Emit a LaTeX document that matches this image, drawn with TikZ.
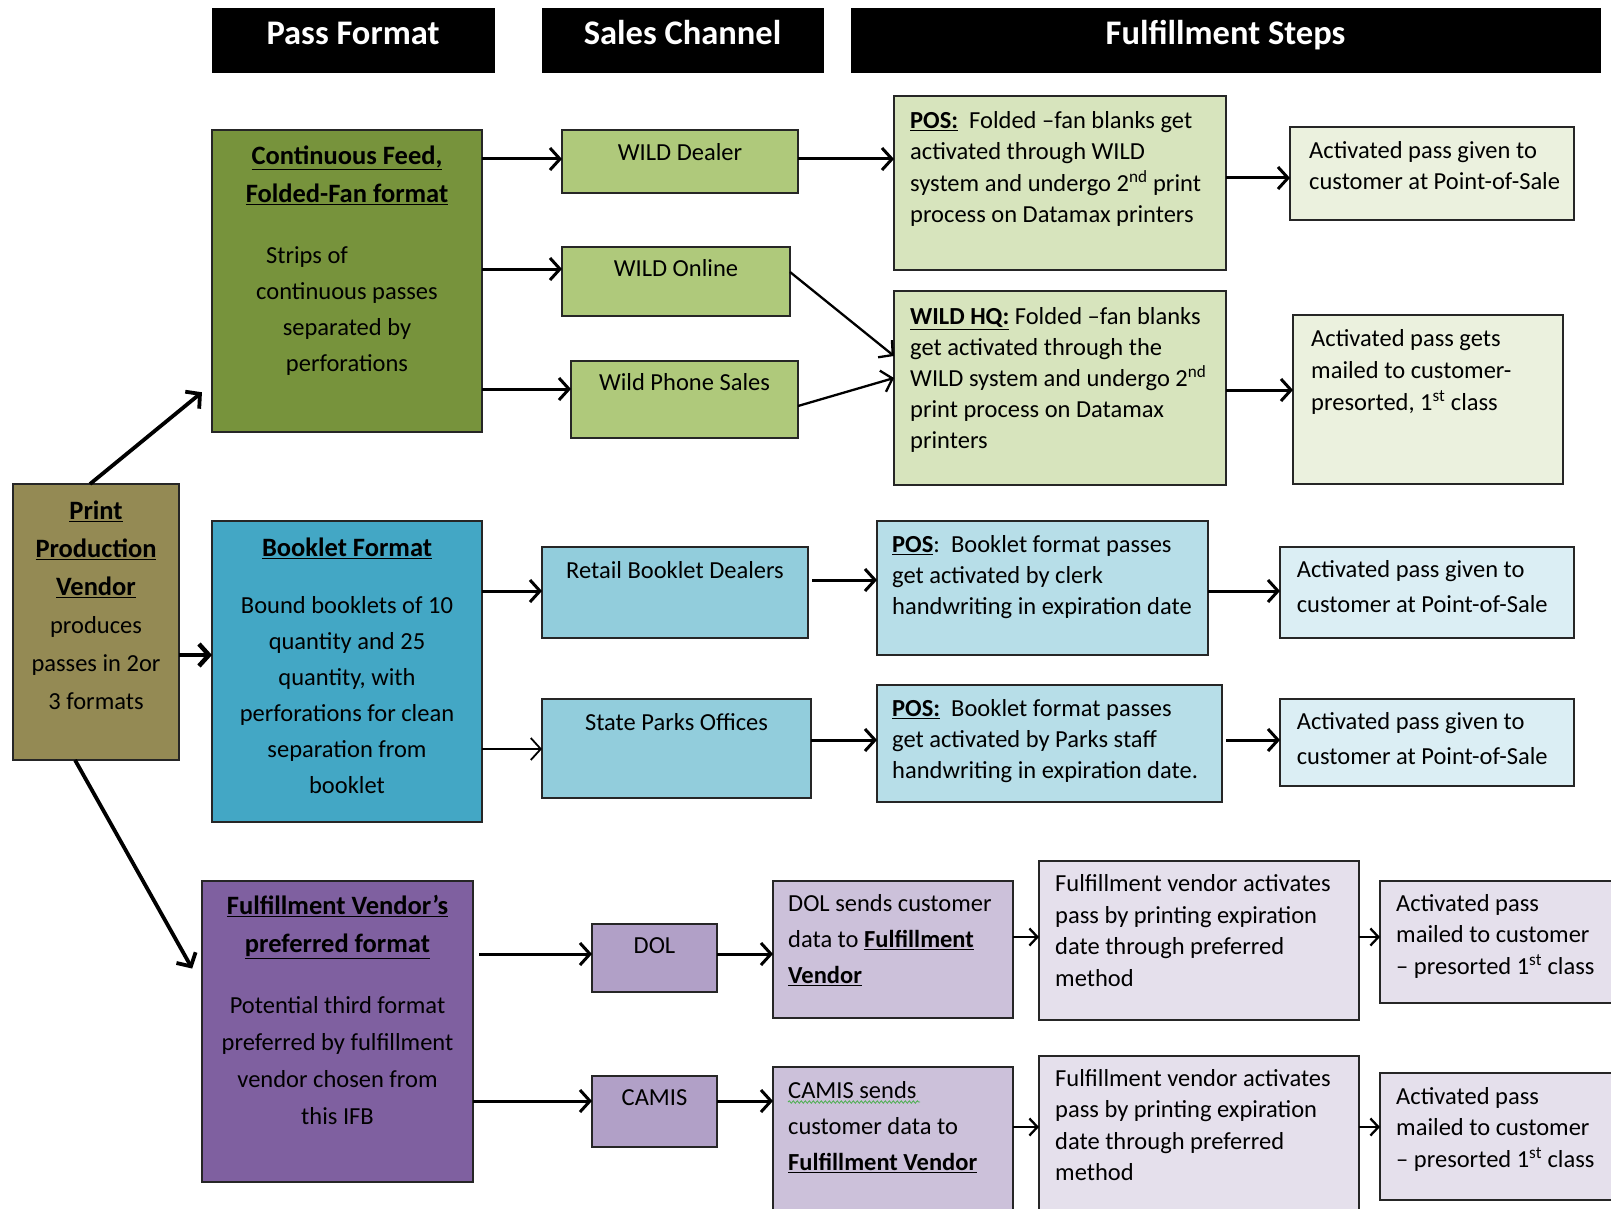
\documentclass[tikz,border=0pt]{standalone}
\usepackage{fontspec}
\setmainfont{Carlito}
\usetikzlibrary{arrows.meta,decorations.pathmorphing}
\definecolor{gD}{HTML}{77933C}
\definecolor{gM}{HTML}{AFC97B}
\definecolor{gL}{HTML}{D7E4BD}
\definecolor{gX}{HTML}{EBF1DE}
\definecolor{pvC}{HTML}{948A54}
\definecolor{bD}{HTML}{43A7C5}
\definecolor{bM}{HTML}{92CDDC}
\definecolor{bL}{HTML}{B7DEE8}
\definecolor{bX}{HTML}{DBEEF4}
\definecolor{uD}{HTML}{7F60A0}
\definecolor{uM}{HTML}{B1A0C7}
\definecolor{uL}{HTML}{CCC1DA}
\definecolor{uX}{HTML}{E5E0EC}
\definecolor{wavy}{HTML}{4CAF50}
\newcommand{\fs}{\rule{0pt}{20pt}}
\newcommand{\ulb}[1]{\underline{\textbf{#1}}}
\newcommand{\hb}[1]{{\fontsize{26.5}{36}\selectfont\ulb{#1}}}
\newcommand{\bxnode}[6]{\node[bx,fill=#6,minimum width={(#4)-(#2)},minimum height={(#5)-(#3)}] (#1) at ({((#2)+(#4))/2},{((#3)+(#5))/2}) {};}
\tikzset{
  bx/.style={draw=black!85, line width=1.3pt, inner sep=0pt, outer sep=0pt},
  hdr/.style={fill=black, draw=black, inner sep=0pt},
  hdrtxt/.style={anchor=base, inner sep=0pt, text=white, font=\fontsize{34.5}{40}\selectfont\bfseries},
  txt/.style={inner sep=0pt, text=black, font=\fontsize{24.5}{31}\selectfont},
  one/.style={txt, anchor=base},
  arr/.style={line width=3pt, -{Straight Barb[length=10pt,width=22pt]}},
  sarr/.style={line width=2.3pt, -{Straight Barb[length=8pt,width=17pt]}},
}
\begin{document}
\begin{tikzpicture}[x=1pt,y=-1pt]
\useasboundingbox (0,0) rectangle (1611,1209);
\clip (0,0) rectangle (1611,1209);
\fill[white] (0,0) rectangle (1611,1209);

% headers
\node[hdr, minimum width=282, minimum height=64] (hpf) at (353,40) {};
\node[hdr, minimum width=281, minimum height=64] (hsc) at (682.5,40) {};
\node[hdr, minimum width=749, minimum height=64] (hfs) at (1225.5,40) {};
\node[hdrtxt] (hpft) at (353,45) {Pass Format};
\node[hdrtxt] (hsct) at (682.5,45) {Sales Channel};
\node[hdrtxt] (hfst) at (1225.5,45) {Fulfillment Steps};

% green row
\bxnode{cf}{212}{130}{482}{432}{gD}
\bxnode{wd}{562}{130}{798}{193}{gM}
\bxnode{wo}{562}{247}{790}{316}{gM}
\bxnode{wp}{571}{361}{798}{438}{gM}
\bxnode{pos1}{894}{96}{1226}{270}{gL}
\bxnode{hq}{894}{291}{1226}{485}{gL}
\bxnode{ag1}{1290}{127}{1574}{220}{gX}
\bxnode{ag2}{1293}{315}{1563}{484}{gX}

% print vendor
\bxnode{pv}{13}{484}{179}{760}{pvC}

% blue row
\bxnode{bf}{212}{521}{482}{822}{bD}
\bxnode{rbd}{542}{547}{808}{638}{bM}
\bxnode{spo}{542}{699}{811}{798}{bM}
\bxnode{pb1}{877}{521}{1208}{655}{bL}
\bxnode{pb2}{877}{685}{1222}{802}{bL}
\bxnode{ab1}{1280}{547}{1574}{638}{bX}
\bxnode{ab2}{1280}{699}{1574}{786}{bX}

% purple row
\bxnode{fv}{202}{881}{473}{1182}{uD}
\bxnode{dol}{592}{924}{717}{992}{uM}
\bxnode{cam}{592}{1076}{717}{1147}{uM}
\bxnode{dols}{773}{881}{1013}{1018}{uL}
\bxnode{cams}{773}{1067}{1013}{1240}{uL}
\bxnode{fva1}{1039}{861}{1359}{1020}{uX}
\bxnode{fva2}{1039}{1056}{1359}{1240}{uX}
\bxnode{am1}{1380}{881}{1640}{1003}{uX}
\bxnode{am2}{1380}{1073}{1640}{1200}{uX}

% arrows green
\draw[arr] (cf.east |- 0,159) -- (wd.west |- 0,159);
\draw[arr] (cf.east |- 0,269) -- (wo.west |- 0,269);
\draw[arr] (cf.east |- 0,389) -- (wp.west |- 0,389);
\draw[arr] (wd.east |- 0,159) -- (pos1.west |- 0,159);
\draw[arr] (pos1.east |- 0,178) -- (ag1.west |- 0,178);
\draw[arr, line width=2.3pt] (wo.east |- 0,272) -- (hq.west |- 0,356);
\draw[arr, line width=2.3pt] (wp.east |- 0,406) -- (hq.west |- 0,378);
\draw[arr] (hq.east |- 0,390) -- (ag2.west |- 0,390);
% arrows from print vendor
\draw[arr, line width=3.8pt, shorten >=13pt] (pv.north -| 90,0) -- (cf.west |- 0,384);
\draw[arr, line width=4.5pt] (pv.east |- 0,655) -- (bf.west |- 0,655);
\draw[arr, line width=3.8pt, shorten >=20pt] (pv.south -| 75,0) -- (fv.west |- 0,986);
% arrows blue
\draw[arr] (bf.east |- 0,591) -- (rbd.west |- 0,591);
\draw[arr, line width=1.8pt] (bf.east |- 0,749) -- (spo.west |- 0,749);
\draw[arr, shorten <=4pt] (rbd.east |- 0,580) -- (pb1.west |- 0,580);
\draw[arr] (pb1.east |- 0,591) -- (ab1.west |- 0,591);
\draw[arr] (spo.east |- 0,740) -- (pb2.west |- 0,740);
\draw[arr, shorten <=4pt] (pb2.east |- 0,740) -- (ab2.west |- 0,740);
% arrows purple
\draw[arr, shorten <=6pt] (fv.east |- 0,954) -- (dol.west |- 0,954);
\draw[arr] (fv.east |- 0,1101) -- (cam.west |- 0,1101);
\draw[arr] (dol.east |- 0,954) -- (dols.west |- 0,954);
\draw[arr] (cam.east |- 0,1101) -- (cams.west |- 0,1101);
\draw[sarr] (dols.east |- 0,937) -- (fva1.west |- 0,937);
\draw[sarr] (cams.east |- 0,1127) -- (fva2.west |- 0,1127);
\draw[sarr] (fva1.east |- 0,937) -- (am1.west |- 0,937);
\draw[sarr] (fva2.east |- 0,1127) -- (am2.west |- 0,1127);

% texts
\node[txt, anchor=north, align=center, font=\fontsize{24.5}{36}\selectfont] (cft) at (347,144)
  {\fs\hb{Continuous Feed,}\\[2pt]\hb{Folded-Fan format}\\[25pt]Strips of\rule{80pt}{0pt}\\continuous passes\\separated by\\perforations};
\node[one] (wdt) at (680,161) {WILD Dealer};
\node[one] (wot) at (676,276) {WILD Online};
\node[one] (wpt) at (684.5,390) {Wild Phone Sales};
\node[txt, anchor=north west, align=left, font=\fontsize{24.5}{31.5}\selectfont] (pos1t) at (910,108)
  {\fs\ulb{POS:}\ \ Folded –fan blanks get\\activated through WILD\\system and undergo 2\textsuperscript{nd} print\\process on Datamax printers};
\node[txt, anchor=north west, align=left, font=\fontsize{24.5}{31}\selectfont] (hqt) at (910,304.5)
  {\fs\ulb{WILD HQ:} Folded –fan blanks\\get activated through the\\WILD system and undergo 2\textsuperscript{nd}\\print process on Datamax\\printers};
\node[txt, anchor=north west, align=left, font=\fontsize{24.5}{31}\selectfont] (ag1t) at (1309,138)
  {\fs Activated pass given to\\customer at Point-of-Sale};
\node[txt, anchor=north west, align=left, font=\fontsize{24.5}{32}\selectfont] (ag2t) at (1311,326)
  {\fs Activated pass gets\\mailed to customer-\\presorted, 1\textsuperscript{st} class};

\node[txt, anchor=north, align=center, font=\fontsize{24.5}{38}\selectfont] (pvt) at (96,499)
  {\fs\hb{Print}\\\hb{Production}\\\hb{Vendor}\\produces\\passes in 2or\\3 formats};

\node[txt, anchor=north, align=center, font=\fontsize{24.5}{36}\selectfont] (bft) at (347,536)
  {\fs\hb{Booklet Format}\\[21pt]Bound booklets of 10\\quantity and 25\\quantity, with\\perforations for clean\\separation from\\booklet};
\node[one] (rbdt) at (675,578) {Retail Booklet Dealers};
\node[one] (spot) at (676.5,730) {State Parks Offices};
\node[txt, anchor=north west, align=left, font=\fontsize{24.5}{31}\selectfont] (pb1t) at (892,532.5)
  {\fs\ulb{POS}:\ \ Booklet format passes\\get activated by clerk\\handwriting in expiration date};
\node[txt, anchor=north west, align=left, font=\fontsize{24.5}{31}\selectfont] (pb2t) at (892,696)
  {\fs\ulb{POS:}\ \ Booklet format passes\\get activated by Parks staff\\handwriting in expiration date.};
\node[txt, anchor=north west, align=left, font=\fontsize{24.5}{35}\selectfont] (ab1t) at (1296.6,557)
  {\fs Activated pass given to\\customer at Point-of-Sale};
\node[txt, anchor=north west, align=left, font=\fontsize{24.5}{35}\selectfont] (ab2t) at (1296.6,709)
  {\fs Activated pass given to\\customer at Point-of-Sale};

\node[txt, anchor=north, align=center, font=\fontsize{24.5}{37}\selectfont] (fvt) at (337.5,894)
  {\fs\hb{Fulfillment Vendor’s}\\[1pt]\hb{preferred format}\\[24pt]Potential third format\\preferred by fulfillment\\vendor chosen from\\this IFB};
\node[one] (dolt) at (654.5,953) {DOL};
\node[one] (camt) at (654.5,1105) {CAMIS};
\node[txt, anchor=north west, align=left, font=\fontsize{24.5}{36}\selectfont] (dolst) at (788,891)
  {\fs DOL sends customer\\data to \ulb{Fulfillment}\\\ulb{Vendor}};
\node[txt, anchor=north west, align=left, font=\fontsize{24.5}{36}\selectfont] (camst) at (788,1078)
  {\fs CAMIS sends\\customer data to\\\ulb{Fulfillment Vendor}};
\draw[wavy, line width=0.8pt, decorate, decoration={snake, amplitude=1.2pt, segment length=4pt}] (788,1102) -- (920,1102);
\node[txt, anchor=north west, align=left, font=\fontsize{24.5}{31.5}\selectfont] (fva1t) at (1055,871.6)
  {\fs Fulfillment vendor activates\\pass by printing expiration\\date through preferred\\method};
\node[txt, anchor=north west, align=left, font=\fontsize{24.5}{31.5}\selectfont] (fva2t) at (1055,1066)
  {\fs Fulfillment vendor activates\\pass by printing expiration\\date through preferred\\method};
\node[txt, anchor=north west, align=left, font=\fontsize{24.5}{31.5}\selectfont] (am1t) at (1396,891)
  {\fs Activated pass\\mailed to customer\\– presorted 1\textsuperscript{st} class};
\node[txt, anchor=north west, align=left, font=\fontsize{24.5}{31.5}\selectfont] (am2t) at (1396,1084)
  {\fs Activated pass\\mailed to customer\\– presorted 1\textsuperscript{st} class};
\end{tikzpicture}
\end{document}
